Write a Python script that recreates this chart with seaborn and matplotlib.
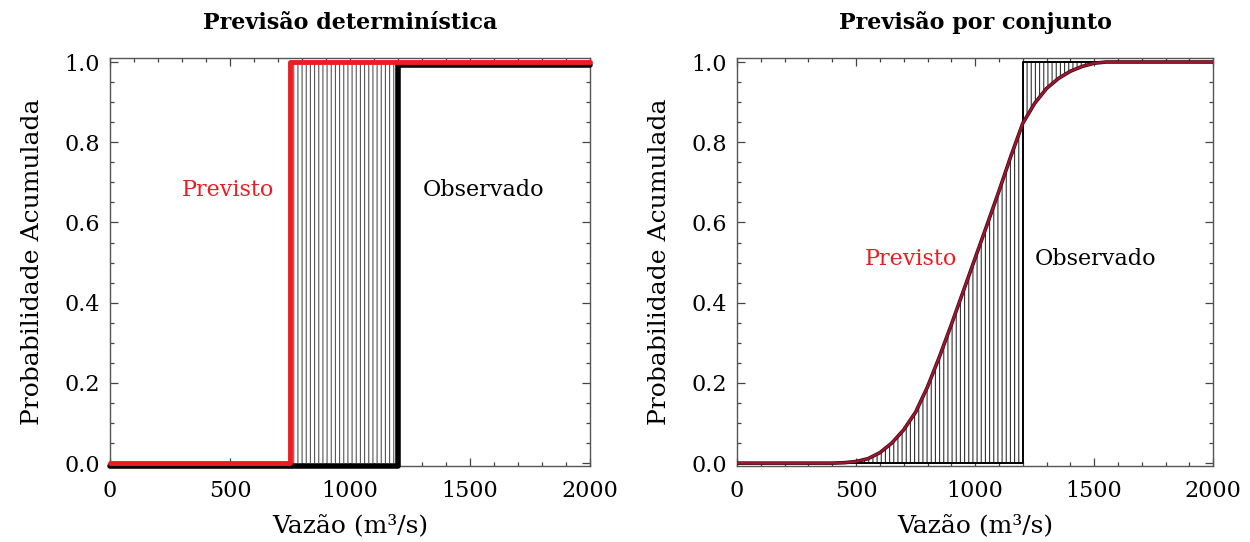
import numpy as np
import matplotlib
matplotlib.use("Agg")
import matplotlib.pyplot as plt
import matplotlib.transforms as mtransforms
from matplotlib.ticker import MultipleLocator
import seaborn as sns
import pandas as pd

# ---------------- data ----------------
# Left panel (deterministic forecast): step functions
det_prev_x = [0, 750, 2000]
det_prev_y = [0.0, 1.0, 1.0]
det_obs_x = [0, 1200, 2000]
det_obs_y = [0.0, 1.0, 1.0]

# Right panel (ensemble forecast): cumulative probability
ens_x = [0, 100, 200, 300, 400, 450, 500, 550, 600, 650, 700, 750, 800, 850,
         900, 950, 1000, 1050, 1100, 1150, 1200, 1250, 1300, 1350, 1400, 1450,
         1500, 1550, 1600, 1800, 2000]
ens_y = [0.0, 0.0, 0.0, 0.0, 0.0, 0.001, 0.004, 0.011, 0.026, 0.050, 0.083,
         0.127, 0.190, 0.265, 0.345, 0.428, 0.511, 0.594, 0.678, 0.765, 0.847,
         0.897, 0.934, 0.959, 0.977, 0.989, 0.997, 1.0, 1.0, 1.0, 1.0]
ens_obs_x = [0, 1200, 2000]
ens_obs_y = [0.0, 1.0, 1.0]

titles = ["Previsão determinística", "Previsão por conjunto"]
xlabel = "Vazão (m³/s)"
ylabel = "Probabilidade Acumulada"
xticks = [0, 500, 1000, 1500, 2000]
yticks = [0.0, 0.2, 0.4, 0.6, 0.8, 1.0]

# ---------------- style ----------------
sns.set_theme(style="ticks")
plt.rcParams["font.family"] = ["DejaVu Serif"]
plt.rcParams["hatch.linewidth"] = 0.8
plt.rcParams["axes.edgecolor"] = "#555555"
plt.rcParams["text.color"] = "black"
plt.rcParams["axes.labelcolor"] = "black"
plt.rcParams["axes.titlecolor"] = "black"

fig = plt.figure(figsize=(12.5, 5.42), dpi=100)
ax1 = fig.add_axes([0.088, 0.140, 0.384, 0.753])
ax2 = fig.add_axes([0.5896, 0.140, 0.381, 0.753])

RED = "#ec1c24"
DARKRED = "#9e1530"

def style_axes(ax, title):
    ax.set_xlim(0, 2000)
    ax.set_ylim(-0.0075, 1.01)
    ax.set_xticks(xticks)
    ax.set_yticks(yticks)
    ax.set_yticklabels([f"{v:.1f}" for v in yticks])
    ax.xaxis.set_minor_locator(MultipleLocator(100))
    ax.yaxis.set_minor_locator(MultipleLocator(0.05))
    ax.tick_params(which="both", direction="in", top=True, right=True,
                   colors="#444444", labelcolor="black", width=0.9)
    ax.tick_params(which="major", length=6, labelsize=16)
    ax.tick_params(axis="x", which="major", pad=10)
    ax.tick_params(axis="y", which="major", pad=7)
    ax.tick_params(which="minor", length=3)
    for s in ax.spines.values():
        s.set_linewidth(1.0)
        s.set_color("#555555")
    ax.set_xlabel(xlabel, fontsize=18, labelpad=9)
    ax.set_ylabel(ylabel, fontsize=18, labelpad=15)
    ax.set_title(title, fontsize=16, fontweight="bold", pad=21)

# ---------------- left panel ----------------
ax1.fill_between([det_prev_x[1], det_obs_x[1]], 0, 1, facecolor="white",
                 edgecolor="#555555", hatch="||||", linewidth=0, zorder=1)
df_obs = pd.DataFrame({"x": det_obs_x, "y": det_obs_y})
sns.lineplot(data=df_obs, x="x", y="y", ax=ax1, color="black", lw=4,
             drawstyle="steps-post", estimator=None, sort=False, zorder=3)
obs_line = ax1.lines[-1]
obs_line.set_transform(mtransforms.offset_copy(ax1.transData, fig=fig,
                                               x=0, y=-3, units="dots"))
obs_line.set_clip_on(False)
df_prev = pd.DataFrame({"x": det_prev_x, "y": det_prev_y})
sns.lineplot(data=df_prev, x="x", y="y", ax=ax1, color=RED, lw=3.5,
             drawstyle="steps-post", estimator=None, sort=False, zorder=4)
ax1.lines[-1].set_clip_on(False)
ax1.text(492, 0.68, "Previsto", color=RED, fontsize=16, ha="center", va="center")
ax1.text(1558, 0.68, "Observado", color="black", fontsize=16, ha="center", va="center")
style_axes(ax1, titles[0])

# ---------------- right panel ----------------
ex = np.array(ens_x, dtype=float)
ey = np.array(ens_y, dtype=float)
cut = ens_obs_x[1]
lo = ex <= cut
hi = ex >= cut
ax2.fill_between(ex[lo], 0, ey[lo], facecolor="white", edgecolor="#333333",
                 hatch="||||", linewidth=0, zorder=1)
ax2.fill_between(ex[hi], ey[hi], 1, facecolor="white", edgecolor="#333333",
                 hatch="||||", linewidth=0, zorder=1)
df_eobs = pd.DataFrame({"x": ens_obs_x, "y": ens_obs_y})
sns.lineplot(data=df_eobs, x="x", y="y", ax=ax2, color="black", lw=1.4,
             drawstyle="steps-post", estimator=None, sort=False, zorder=3)
df_ens = pd.DataFrame({"x": ens_x, "y": ens_y})
sns.lineplot(data=df_ens, x="x", y="y", ax=ax2, color="#3a0a12", lw=2.6,
             estimator=None, sort=False, zorder=4)
sns.lineplot(data=df_ens, x="x", y="y", ax=ax2, color=DARKRED, lw=1.6,
             estimator=None, sort=False, zorder=5)
ax2.text(731, 0.51, "Previsto", color=RED, fontsize=16, ha="center", va="center")
ax2.text(1504, 0.51, "Observado", color="black", fontsize=16, ha="center", va="center")
style_axes(ax2, titles[1])

fig.savefig("out.png", dpi=100)
